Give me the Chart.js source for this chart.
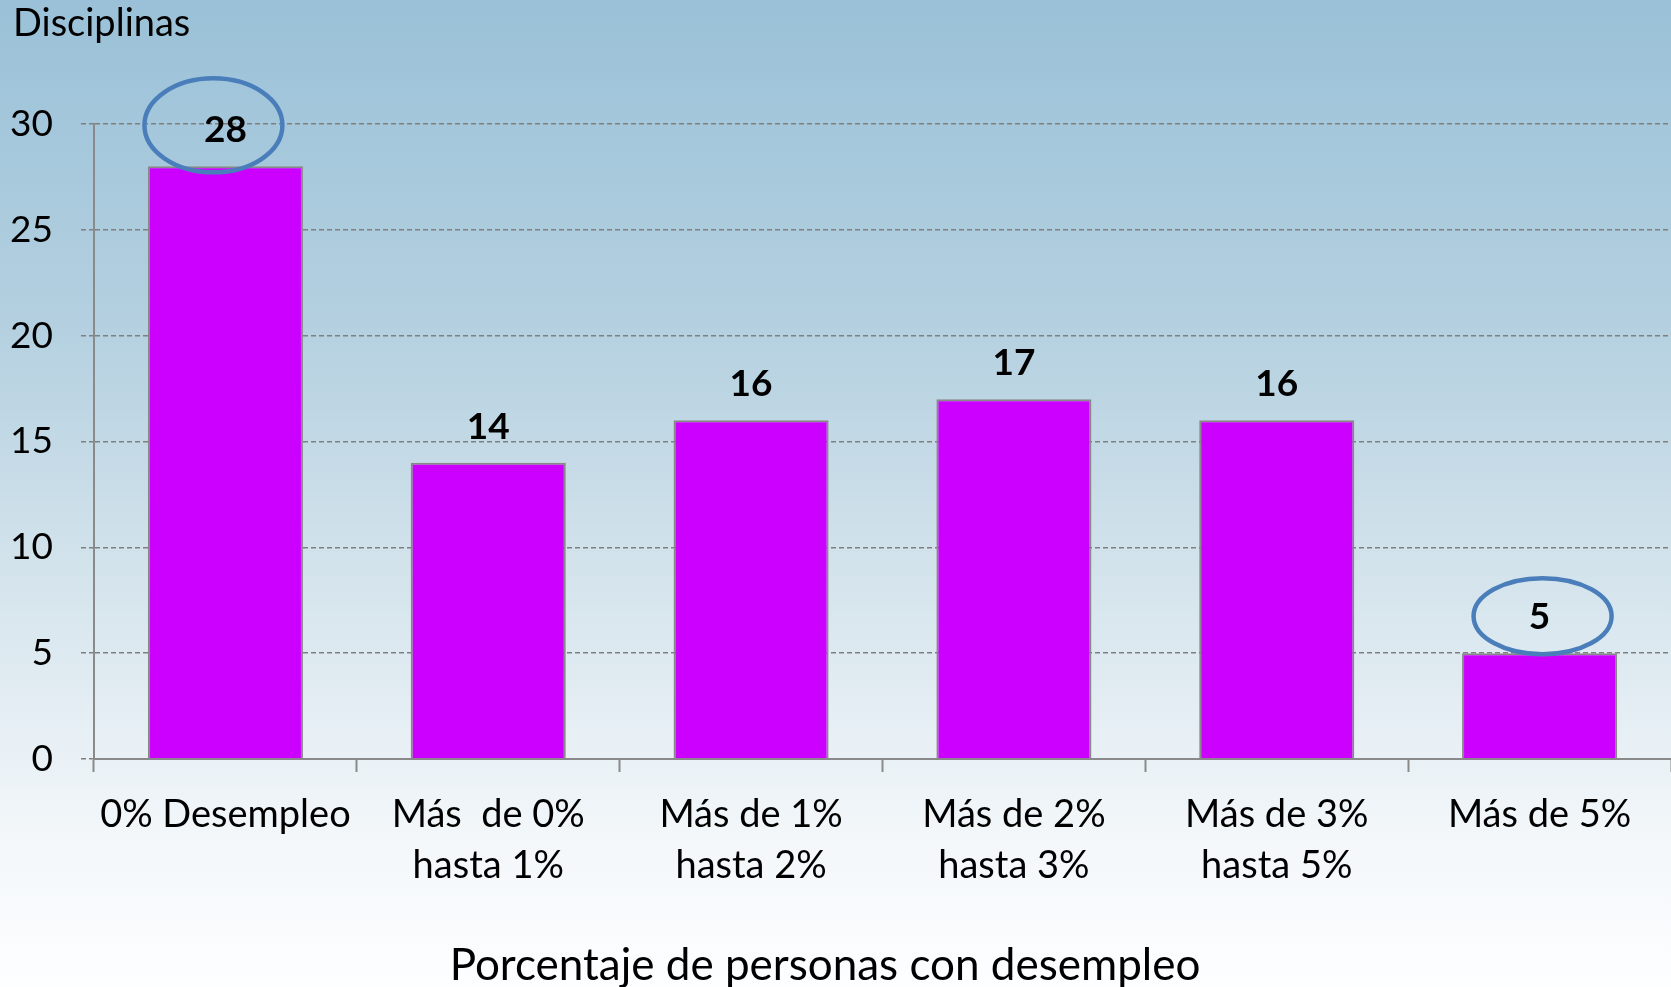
<!DOCTYPE html>
<html>
<head>
<meta charset="utf-8">
<script src="https://cdn.jsdelivr.net/npm/chart.js@4.4.1/dist/chart.umd.min.js"></script>
<style>
  html, body { margin: 0; padding: 0; background: #ffffff; }
  #wrap { width: 1671px; height: 987px; position: relative; }
</style>
</head>
<body>
<div id="wrap"><canvas id="c" width="1671" height="987"></canvas></div>
<script>
const categories = [
  '0% Desempleo',
  ['Más  de 0%', 'hasta 1%'],
  ['Más de 1%', 'hasta 2%'],
  ['Más de 2%', 'hasta 3%'],
  ['Más de 3%', 'hasta 5%'],
  'Más de 5%'
];
const disciplinas = [28, 14, 16, 17, 16, 5];
const highlighted = [0, 5];
const yTitle = 'Disciplinas';
const xTitle = 'Porcentaje de personas con desempleo';
const yMin = 0, yMax = 30, yStep = 5;

const FONT = 'Lato, "Open Sans", sans-serif';

const bgPlugin = {
  id: 'bg',
  beforeDraw(chart) {
    const ctx = chart.ctx;
    const g = ctx.createLinearGradient(0, 0, 0, chart.height);
    g.addColorStop(0, '#9ac1d8');
    g.addColorStop(0.33, '#b4d0e0');
    g.addColorStop(0.6, '#d6e5ed');
    g.addColorStop(0.85, '#f3f7fa');
    g.addColorStop(1, '#fdfeff');
    ctx.save();
    ctx.fillStyle = g;
    ctx.fillRect(0, 0, chart.width, chart.height);
    ctx.restore();
  }
};

const annotPlugin = {
  id: 'annot',
  afterDatasetsDraw(chart) {
    const ctx = chart.ctx;
    const meta = chart.getDatasetMeta(0);
    ctx.save();
    // value labels
    ctx.fillStyle = '#000';
    ctx.font = 'bold 37px ' + FONT;
    ctx.textAlign = 'center';
    ctx.textBaseline = 'middle';
    meta.data.forEach((bar, i) => {
      ctx.fillText(String(disciplinas[i]), bar.x, bar.y - 36);
    });
    // ellipses
    ctx.strokeStyle = '#4a7ebb';
    ctx.lineWidth = 4.5;
    highlighted.forEach((i) => {
      const bar = meta.data[i];
      const first = i === 0;
      const cx = bar.x + (first ? -12 : 3);
      const cy = bar.y - (first ? 41 : 37);
      const rx = 69, ry = first ? 47 : 38;
      ctx.beginPath();
      ctx.ellipse(cx, cy, rx, ry, 0, 0, Math.PI * 2);
      ctx.stroke();
    });
    // axis titles
    ctx.font = '38px ' + FONT;
    ctx.textAlign = 'left';
    ctx.textBaseline = 'middle';
    ctx.fillText(yTitle, 13, 24);
    ctx.font = '44px ' + FONT;
    ctx.textAlign = 'center';
    ctx.fillText(xTitle, 825, 966);
    ctx.restore();
  }
};

new Chart(document.getElementById('c'), {
  type: 'bar',
  data: {
    labels: categories,
    datasets: [{
      data: disciplinas,
      backgroundColor: '#cc00ff',
      borderColor: '#888888',
      borderWidth: 2,
      barPercentage: 0.59,
      categoryPercentage: 1
    }]
  },
  options: {
    responsive: false,
    animation: false,
    layout: { padding: { top: 124, right: 0, left: 0, bottom: 0 } },
    plugins: { legend: { display: false }, tooltip: { enabled: false }, title: { display: false } },
    scales: {
      x: {
        afterFit(scale) { scale.height = 228; },
        grid: {
          offset: true,
          drawOnChartArea: false,
          drawTicks: true,
          tickLength: 13,
          tickColor: '#8a8a8a',
          tickWidth: 2
        },
        border: { display: true, color: '#8a8a8a', width: 2 },
        ticks: {
          color: '#000',
          padding: 17,
          maxRotation: 0,
          autoSkip: false,
          font: { family: FONT, size: 38, lineHeight: 1.34 }
        }
      },
      y: {
        min: yMin, max: yMax,
        afterFit(scale) { scale.width = 94; },
        grid: {
          color: '#7f7f7f',
          lineWidth: 1.5,
          tickBorderDash: [5, 3],
          tickLength: 13,
          tickColor: '#7f7f7f'
        },
        border: { display: true, color: '#8a8a8a', width: 2, dash: [5, 3] },
        ticks: {
          stepSize: yStep,
          color: '#000',
          padding: 28,
          font: { family: FONT, size: 37 }
        }
      }
    }
  },
  plugins: [bgPlugin, annotPlugin]
});
</script>
</body>
</html>
